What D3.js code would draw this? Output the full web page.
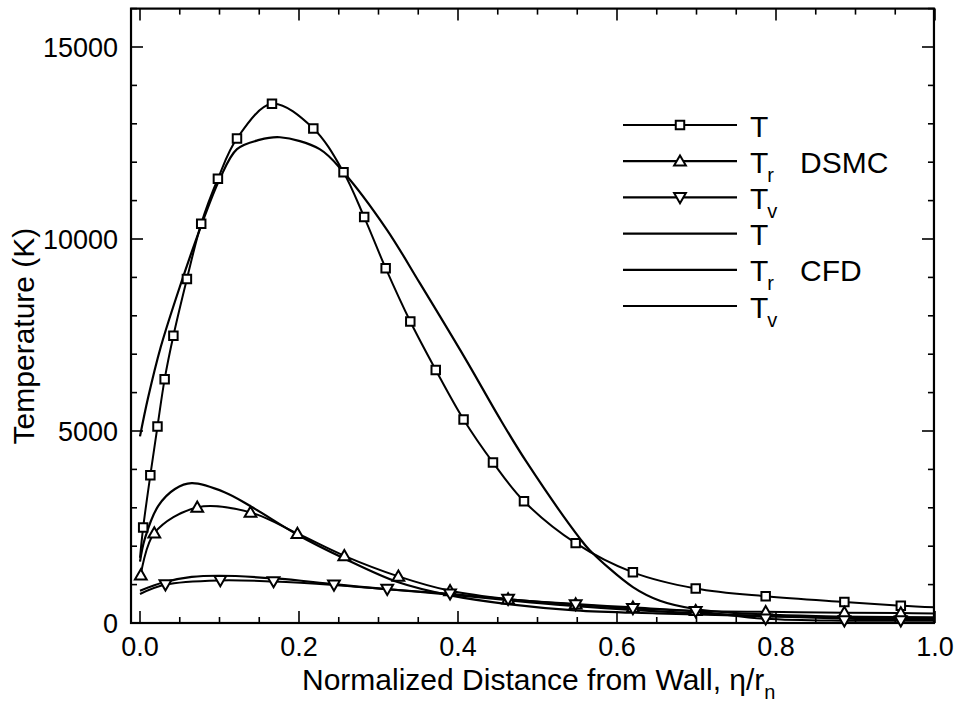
<!DOCTYPE html>
<html>
<head>
<meta charset="utf-8">
<script src="https://cdn.jsdelivr.net/npm/d3@7"></script>
<style>
  body { margin: 0; background: #fff; }
  svg { display: block; }
  text { font-family: "Liberation Sans", Arial, Helvetica, sans-serif; fill: #000; }
</style>
</head>
<body>
<div id="chart"></div>
<script>
// x = eta / r_n, temperatures in K

// DSMC sampled cells (drawn with markers)
var dsmcT_x  = [0.004, 0.013, 0.022, 0.031, 0.042, 0.059, 0.077, 0.098, 0.122, 0.166, 0.218, 0.256, 0.282, 0.309, 0.340, 0.372, 0.407, 0.444, 0.483, 0.548, 0.620, 0.699, 0.787, 0.886, 0.957];
var dsmcT    = [2490, 3850, 5120, 6350, 7480, 8960, 10400, 11570, 12620, 13520, 12880, 11740, 10570, 9240, 7850, 6590, 5300, 4180, 3170, 2080, 1320, 900, 695, 547, 452];
var dsmcTr_x = [0.001, 0.018, 0.072, 0.139, 0.198, 0.257, 0.325, 0.390, 0.463, 0.548, 0.620, 0.699, 0.787, 0.886, 0.957];
var dsmcTr   = [1250, 2340, 3010, 2880, 2330, 1750, 1215, 840, 625, 495, 408, 320, 290, 270, 260];
var dsmcTv_x = [0.032, 0.101, 0.168, 0.244, 0.311, 0.390, 0.463, 0.548, 0.620, 0.699, 0.787, 0.886, 0.957];
var dsmcTv   = [1000, 1110, 1080, 990, 880, 760, 620, 480, 380, 300, 110, 60, 60];
// DSMC curve values at the wall (x=0) and at x=1 (no marker there); null = curve starts at first marker
var dsmcT_ends  = [1700, 410];
var dsmcTr_ends = [null, 250];
var dsmcTv_ends = [755, 60];

// CFD solution
var cfdT_x  = [0.0, 0.01, 0.026, 0.05, 0.077, 0.10, 0.122, 0.150, 0.176, 0.226, 0.256, 0.310, 0.352, 0.411, 0.451, 0.486, 0.553, 0.566, 0.620, 0.654, 0.698, 0.75, 0.85, 1.0];
var cfdT    = [4860, 5850, 7180, 8750, 10350, 11550, 12340, 12580, 12650, 12340, 11740, 10260, 8850, 6820, 5380, 4200, 2210, 1890, 935, 580, 365, 260, 180, 150];
var cfdTr_x = [0.0, 0.006, 0.023, 0.044, 0.065, 0.107, 0.140, 0.198, 0.257, 0.325, 0.390, 0.460, 0.547, 0.650, 0.80, 1.0];
var cfdTr   = [1600, 2190, 3050, 3490, 3640, 3400, 3030, 2300, 1680, 1060, 720, 500, 330, 250, 170, 120];
var cfdTv_x = [0.0, 0.03, 0.065, 0.10, 0.17, 0.244, 0.311, 0.39, 0.46, 0.548, 0.62, 0.70, 0.80, 0.90, 1.0];
var cfdTv   = [840, 1060, 1200, 1230, 1160, 1010, 880, 740, 600, 440, 340, 250, 170, 110, 80];

// axis ticks
var xMajor = [0, 0.2, 0.4, 0.6, 0.8, 1.0];
var xTickLabels = ["0.0", "0.2", "0.4", "0.6", "0.8", "1.0"];
var yMajor = [0, 5000, 10000, 15000];
var yTickLabels = ["0", "5000", "10000", "15000"];

// legend
var legendNames = ["T", "T", "T", "T", "T", "T"];
var legendSubs = ["", "r", "v", "", "r", "v"];
var legendMarkers = ["square", "triangle", "triangleDown", "none", "none", "none"];
var legendGroups = ["DSMC", "CFD"];

var W = 958, H = 707;

var svg = d3.select("#chart").append("svg")
    .attr("width", W)
    .attr("height", H);

var x = d3.scaleLinear().domain([0, 1]).range([140, 935]);
var y = d3.scaleLinear().domain([0, 16000]).range([623, 8.6]);

// frame edges (note: "top" is taken by window.top)
var fLeft = x(-0.0113), fRight = x(0.9987), fTop = y(16000), fBottom = y(0);

// minor ticks
var xMinor = d3.range(0, 1.0001, 0.05);
var yMinor = d3.range(0, 16001, 1000);

var ticks = svg.append("g").attr("stroke", "#000").attr("stroke-width", 1.6);
xMinor.forEach(function(v) {
  var major = xMajor.some(function(m) { return Math.abs(m - v) < 1e-6; });
  var len = major ? 12 : 6;
  ticks.append("line").attr("x1", x(v)).attr("x2", x(v)).attr("y1", fBottom).attr("y2", fBottom - len);
  ticks.append("line").attr("x1", x(v)).attr("x2", x(v)).attr("y1", fTop).attr("y2", fTop + len);
});
yMinor.forEach(function(v) {
  var major = yMajor.indexOf(v) >= 0;
  var len = major ? 12 : 6;
  ticks.append("line").attr("x1", fLeft).attr("x2", fLeft + len).attr("y1", y(v)).attr("y2", y(v));
  ticks.append("line").attr("x1", fRight).attr("x2", fRight - len).attr("y1", y(v)).attr("y2", y(v));
});

// frame
svg.append("rect")
    .attr("x", fLeft).attr("y", fTop)
    .attr("width", fRight - fLeft).attr("height", fBottom - fTop)
    .attr("fill", "none").attr("stroke", "#000").attr("stroke-width", 2.2);

// tick labels
svg.selectAll(".xlab").data(xMajor).enter().append("text")
    .attr("class", "xlab")
    .attr("x", function(d) { return x(d); })
    .attr("y", 656)
    .attr("text-anchor", "middle")
    .attr("font-size", 27)
    .text(function(d, i) { return xTickLabels[i]; });

svg.selectAll(".ylab").data(yMajor).enter().append("text")
    .attr("class", "ylab")
    .attr("x", 118)
    .attr("y", function(d) { return y(d) + 10; })
    .attr("text-anchor", "end")
    .attr("font-size", 27)
    .text(function(d, i) { return yTickLabels[i]; });

// axis titles
var xt = svg.append("text")
    .attr("x", 302).attr("y", 690)
    .attr("font-size", 30)
    .text("Normalized Distance from Wall, \u03b7/r");
xt.append("tspan").attr("dy", 9).attr("font-size", 20).text("n");

svg.append("text")
    .attr("transform", "translate(34,336) rotate(-90)")
    .attr("text-anchor", "middle")
    .attr("font-size", 30)
    .text("Temperature (K)");

// curves
var line = d3.line()
    .x(function(d) { return x(d[0]); })
    .y(function(d) { return y(d[1]); })
    .curve(d3.curveCatmullRom.alpha(0.5));

function pts(xs, ys) {
  return xs.map(function(v, i) { return [v, ys[i]]; });
}
function withEnds(xs, ys, ends) {
  var p = pts(xs, ys);
  if (ends[0] != null) p.unshift([0, ends[0]]);
  if (ends[1] != null) p.push([1, ends[1]]);
  return p;
}

var plot = svg.append("g");

[[cfdT_x, cfdT], [cfdTr_x, cfdTr], [cfdTv_x, cfdTv]].forEach(function(s) {
  plot.append("path")
      .datum(pts(s[0], s[1]))
      .attr("d", line)
      .attr("fill", "none")
      .attr("stroke", "#000")
      .attr("stroke-width", 2.2);
});

var dsmc = [
  {x: dsmcT_x, v: dsmcT, ends: dsmcT_ends, marker: "square"},
  {x: dsmcTr_x, v: dsmcTr, ends: dsmcTr_ends, marker: "triangle"},
  {x: dsmcTv_x, v: dsmcTv, ends: dsmcTv_ends, marker: "triangleDown"}
];

dsmc.forEach(function(s) {
  plot.append("path")
      .datum(withEnds(s.x, s.v, s.ends))
      .attr("d", line)
      .attr("fill", "none")
      .attr("stroke", "#000")
      .attr("stroke-width", 2);
});

var sym = {
  square: d3.symbol().type(d3.symbolSquare).size(72),
  triangle: d3.symbol().type(d3.symbolTriangle).size(60),
  triangleDown: d3.symbol().type(d3.symbolTriangle).size(60)
};

function drawMarker(g, type, cx, cy) {
  if (type === "none") return;
  var rot = type === "triangleDown" ? " rotate(180)" : "";
  var dy = type === "triangle" ? 1 : (type === "triangleDown" ? -1 : 0);
  g.append("path")
      .attr("d", sym[type]())
      .attr("transform", "translate(" + cx + "," + (cy + dy) + ")" + rot)
      .attr("fill", "#fff")
      .attr("stroke", "#000")
      .attr("stroke-width", 2);
}

dsmc.forEach(function(s) {
  s.x.forEach(function(v, i) {
    drawMarker(plot, s.marker, x(v), y(s.v[i]));
  });
});

// legend
var lg = svg.append("g");
var rowY = function(i) { return 125 + i * 36.2; };
legendNames.forEach(function(name, i) {
  var ly = rowY(i);
  lg.append("line")
      .attr("x1", 623).attr("x2", 737)
      .attr("y1", ly).attr("y2", ly)
      .attr("stroke", "#000").attr("stroke-width", 2.2);
  drawMarker(lg, legendMarkers[i], 680, ly);
  var t = lg.append("text")
      .attr("x", 750).attr("y", ly + 11.5)
      .attr("font-size", 30)
      .text(name);
  if (legendSubs[i]) {
    t.append("tspan").attr("dx", -1).attr("dy", 9).attr("font-size", 20).text(legendSubs[i]);
  }
});
legendGroups.forEach(function(g, i) {
  lg.append("text")
      .attr("x", 800).attr("y", rowY(1 + i * 3) + 11.5)
      .attr("font-size", 30)
      .text(g);
});
</script>
</body>
</html>
